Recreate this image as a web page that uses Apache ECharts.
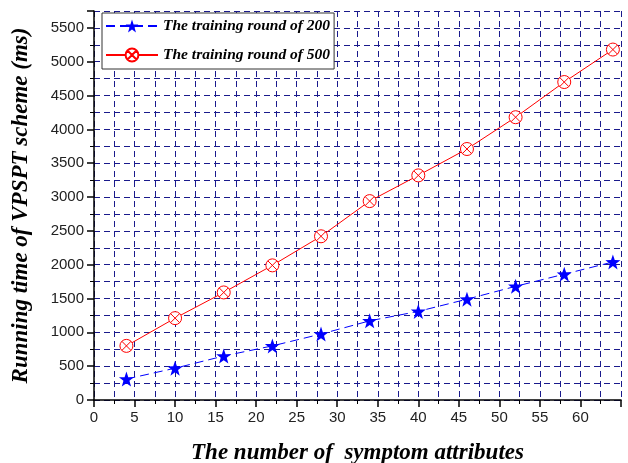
<!DOCTYPE html>
<html>
<head>
<meta charset="utf-8">
<script src="https://cdn.jsdelivr.net/npm/echarts@6/dist/echarts.min.js"></script>
<style>
  html, body { margin: 0; padding: 0; background: #fff; }
  #chart { width: 628px; height: 463px; }
</style>
</head>
<body>
<div id="chart"></div>
<script>
// symptom attributes on x
const attrs = [4, 10, 16, 22, 28, 34, 40, 46, 52, 58, 64]
const round200 = [310, 470, 650, 800, 975, 1170, 1310, 1490, 1680, 1860, 2040]
const round500 = [800, 1210, 1590, 1990, 2420, 2940, 3320, 3710, 4180, 4700, 5180]

const gridColor = '#1a1a8c'
// circle with a cross
const crossCircle = 'path://M0,-10A10,10 0 1,1 0,10A10,10 0 1,1 0,-10ZM-7,-7L7,7M7,-7L-7,7'
const star = 'path://M0,-10L2.35,-3.24L9.51,-3.09L3.8,1.24L5.88,8.09L0,4L-5.88,8.09L-3.8,1.24L-9.51,-3.09L-2.35,-3.24Z'

const pairs = (xs, ys) => xs.map((x, i) => [x, ys[i]])
const titleFont = { fontFamily: 'Liberation Serif', fontStyle: 'italic', fontWeight: 'bold', fontSize: 23, color: '#000' }

const option = {
  backgroundColor: '#fff',
  animation: false,
  grid: { left: 94, top: 11, right: 7, bottom: 63, outerBoundsMode: 'none', containLabel: false },
  legend: {
    left: 102, top: 13,
    orient: 'vertical',
    padding: [5, 4, 6, 3],
    itemGap: 13,
    itemWidth: 52,
    itemHeight: 16,
    borderColor: '#333',
    borderWidth: 1,
    backgroundColor: '#fff',
    textStyle: { fontFamily: 'Liberation Serif', fontStyle: 'italic', fontWeight: 'bold', fontSize: 15.5, color: '#000' },
    data: ['The training round of 200', 'The training round of 500']
  },
  xAxis: {
    type: 'value',
    min: 0, max: 65, interval: 5,
    name: 'The number of  symptom attributes',
    nameLocation: 'middle',
    nameGap: 42,
    nameTextStyle: titleFont,
    axisLine: { onZero: false, lineStyle: { color: '#000', width: 1.5 } },
    axisTick: { length: 7, lineStyle: { color: '#000', width: 1.5 } },
    minorTick: { show: true, splitNumber: 2, length: 4, lineStyle: { color: '#000' } },
    axisLabel: { fontFamily: 'Liberation Sans', fontSize: 15, color: '#222', margin: 10, showMaxLabel: false },
    splitLine: { show: true, lineStyle: { color: gridColor, type: [6, 4] } },
    minorSplitLine: { show: true, lineStyle: { color: gridColor, type: [6, 4] } }
  },
  yAxis: {
    type: 'value',
    min: 0, max: 5750, interval: 500,
    name: 'Running time of VPSPT scheme (ms)',
    nameLocation: 'middle',
    nameGap: 61,
    nameTextStyle: titleFont,
    axisLine: { show: true, lineStyle: { color: '#000', width: 1.5 } },
    axisTick: { show: true, length: 7, lineStyle: { color: '#000', width: 1.5 } },
    minorTick: { show: true, splitNumber: 2, length: 4, lineStyle: { color: '#000' } },
    axisLabel: {
      fontFamily: 'Liberation Sans', fontSize: 15, color: '#222', margin: 10,
      showMaxLabel: false,
      formatter: v => String(v)
    },
    splitLine: { show: true, lineStyle: { color: gridColor, type: [6, 4] } },
    minorSplitLine: { show: true, lineStyle: { color: gridColor, type: [6, 4] } }
  },
  series: [
    {
      name: 'The training round of 200',
      type: 'line',
      data: pairs(attrs, round200),
      symbol: star,
      symbolSize: 15,
      itemStyle: { color: '#0000ff' },
      lineStyle: { color: '#0000ff', width: 1, type: [9, 5] }
    },
    {
      name: 'The training round of 500',
      type: 'line',
      data: pairs(attrs, round500),
      symbol: crossCircle,
      symbolSize: 13,
      itemStyle: { color: '#fff', borderColor: '#ff0000', borderWidth: 1 },
      lineStyle: { color: '#ff0000', width: 1 }
    }
  ]
}

const chart = echarts.init(document.getElementById('chart'))
chart.setOption(option)
</script>
</body>
</html>
